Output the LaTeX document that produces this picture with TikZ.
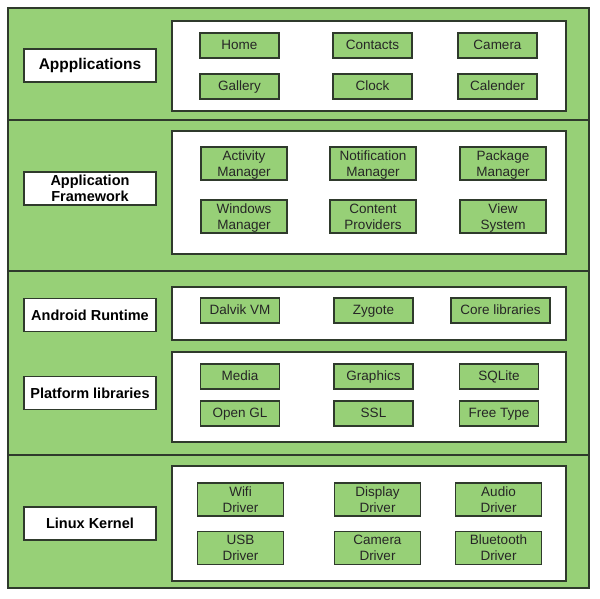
\documentclass[tikz,border=0pt]{standalone}
\usepackage{fontspec}
\setmainfont{Liberation Sans}
\usepackage{tikz}
\definecolor{layergreen}{HTML}{97D077}
\definecolor{edgegray}{HTML}{2F3A2C}
\definecolor{textgray}{HTML}{262626}

\begin{document}
\begin{tikzpicture}
			[x=1pt,y=-1pt,
			layer/.style={draw=edgegray,line width=1.4pt,fill=layergreen},
			panel/.style={draw=edgegray,line width=1.1pt,fill=white},
			tag/.style={draw=edgegray,line width=1.1pt,fill=white,minimum width=132pt,minimum height=33pt,
				inner sep=0pt,align=center,font=\fontsize{14.5}{16.5}\selectfont\bfseries},
			comp/.style={draw=edgegray,line width=1.1pt,fill=layergreen,minimum width=79pt,minimum height=25pt,
				inner sep=0pt,align=center,text=textgray,text height=10pt,text depth=1.6pt,
				font=\fontsize{13.5}{16}\selectfont},
			wide/.style={comp,minimum width=86pt,minimum height=33pt,text height=27pt,text depth=2pt}]
			\useasboundingbox (0,0) rectangle (600,598);
			% layer bands
			\draw[layer] (8,8) rectangle (589,120);
			\draw[layer] (8,120) rectangle (589,271);
			\draw[layer] (8,271) rectangle (589,455);
			\draw[layer] (8,455) rectangle (589,588);
			% white panels
			\draw[panel] (172,21) rectangle (566,111);
			\draw[panel] (172,131) rectangle (566,254);
			\draw[panel] (172,287) rectangle (566,340);
			\draw[panel] (172,352) rectangle (566,442);
			\draw[panel] (172,466) rectangle (566,581);
			% layer names
			\node[tag,font=\fontsize{15.5}{16}\selectfont\bfseries] (apps) at (90,65.5) {Appplications};
			\node[tag] (framework) at (90,188.5) {Application\\Framework};
			\node[tag] (runtime) at (90,315) {Android Runtime};
			\node[tag] (platform) at (90,393) {Platform libraries};
			\node[tag] (kernel) at (90,523.5) {Linux Kernel};
			% applications
			\node[comp] (home) at (239.5,45.5) {Home};
			\node[comp] (contacts) at (372.5,45.5) {Contacts};
			\node[comp] (camera) at (497.5,45.5) {Camera};
			\node[comp] (gallery) at (239.5,86.5) {Gallery};
			\node[comp] (clock) at (372.5,86.5) {Clock};
			\node[comp] (calender) at (497.5,86.5) {Calender};
			% application framework
			\node[wide] (activity) at (244,163.5) {Activity\\Manager};
			\node[wide] (notification) at (373,163.5) {Notification\\Manager};
			\node[wide] (package) at (503,163.5) {Package\\Manager};
			\node[wide] (windows) at (244,216.5) {Windows\\Manager};
			\node[wide] (content) at (373,216.5) {Content\\Providers};
			\node[wide] (view) at (503,216.5) {View\\System};
			% android runtime
			\node[comp] (dalvik) at (240,310.5) {Dalvik VM};
			\node[comp] (zygote) at (373.5,310.5) {Zygote};
			\node[comp,minimum width=99pt] (corelib) at (500.5,310.5) {Core libraries};
			% platform libraries
			\node[comp] (media) at (240,376.5) {Media};
			\node[comp] (graphics) at (373.5,376.5) {Graphics};
			\node[comp] (sqlite) at (499,376.5) {SQLite};
			\node[comp] (opengl) at (240,413.5) {Open GL};
			\node[comp] (ssl) at (373.5,413.5) {SSL};
			\node[comp] (freetype) at (499,413.5) {Free Type};
			% linux kernel
			\node[wide] (wifi) at (240.5,499.5) {Wifi\\Driver};
			\node[wide] (display) at (377.5,499.5) {Display\\Driver};
			\node[wide] (audio) at (498.5,499.5) {Audio\\Driver};
			\node[wide] (usb) at (240.5,548) {USB\\Driver};
			\node[wide] (cameradrv) at (377.5,548) {Camera\\Driver};
			\node[wide] (bluetooth) at (498.5,548) {Bluetooth\\Driver};
			\end{tikzpicture}
\end{document}
